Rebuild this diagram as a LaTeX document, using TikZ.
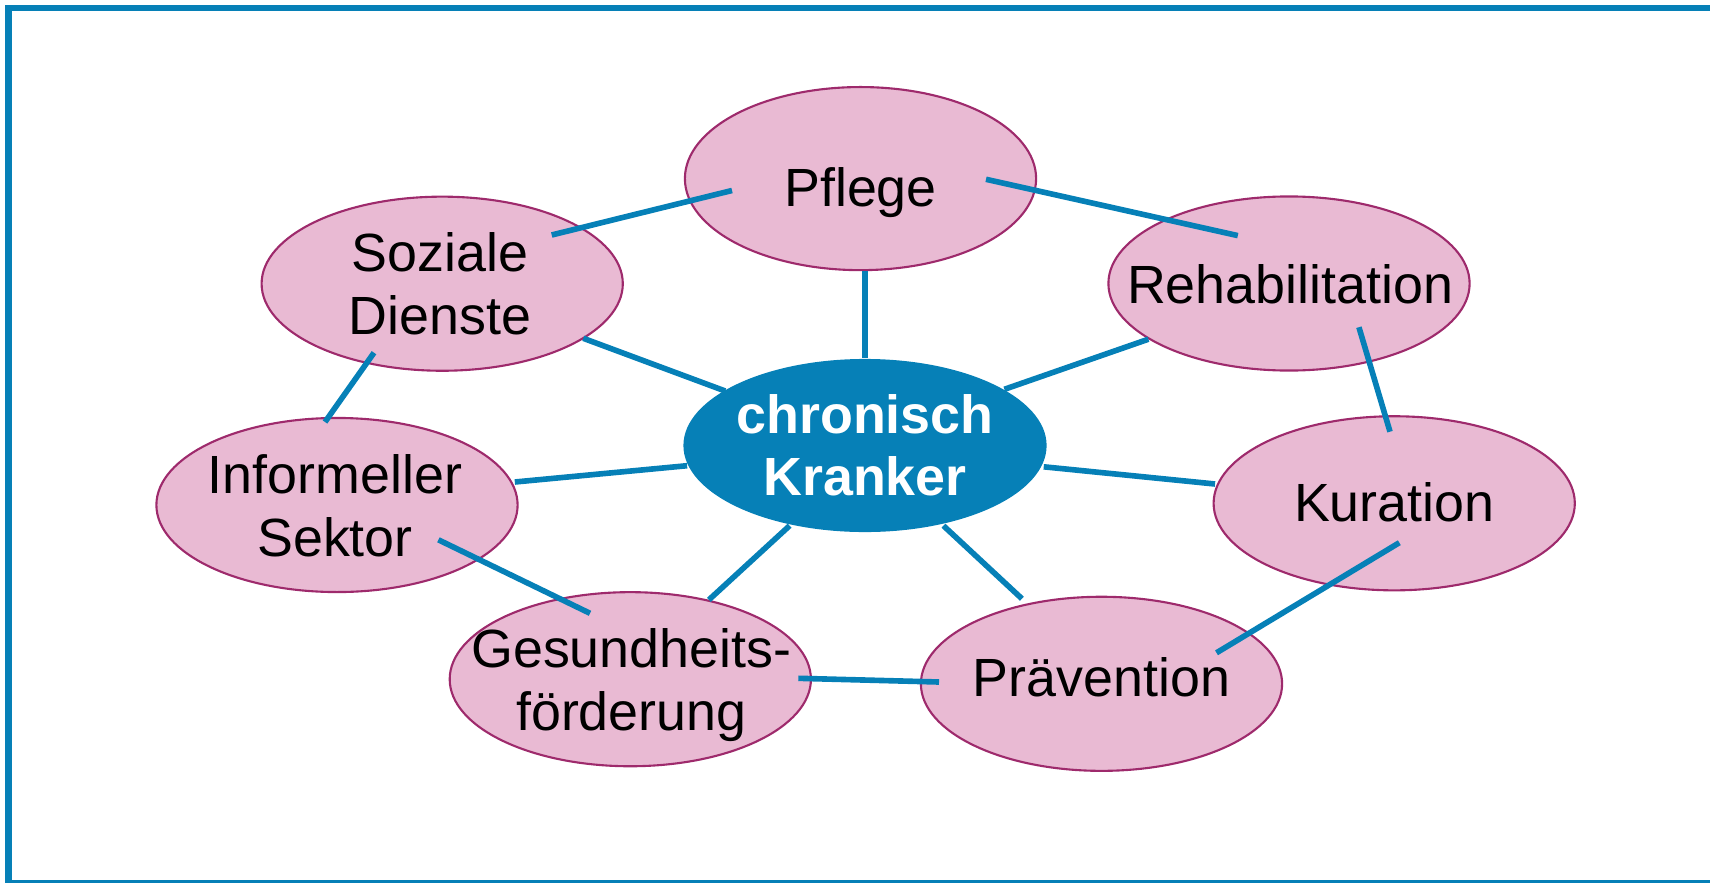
\documentclass[tikz,border=0pt]{standalone}
\usepackage{fontspec}
\setmainfont{Liberation Sans}
\usetikzlibrary{shapes.geometric,calc}
\definecolor{frameblue}{RGB}{6,128,183}
\definecolor{petal}{RGB}{233,186,211}
\definecolor{petaledge}{RGB}{158,42,108}

\begin{document}
\begin{tikzpicture}[x=0.01cm,y=-0.01cm,
  petalnode/.style={ellipse, draw=petaledge, line width=0.6pt, fill=petal,
    minimum width=3.61cm, minimum height=1.74cm, inner sep=0pt},
  corenode/.style={ellipse, fill=frameblue, minimum width=3.63cm,
    minimum height=1.73cm, inner sep=0pt},
  lbl/.style={anchor=base, align=center, inner sep=0pt,
    font=\fontsize{15.3}{17.9}\selectfont},
  corelbl/.style={anchor=base, align=center, inner sep=0pt, text=white,
    font=\fontsize{15.3}{17.6}\selectfont\bfseries},
  link/.style={draw=frameblue, line width=1.6pt}]

\useasboundingbox (0,0) rectangle (1710,882);
\clip (0,0) rectangle (1710,882);

% outer frame (right side lies outside the page)
\draw[frameblue, line width=1.75pt] (1725,883) -- (8.5,883) -- (8.5,8) -- (1725,8);

% ellipses
\node[petalnode, minimum width=3.51cm, minimum height=1.83cm] (pflege) at (860.5,178.6) {};
\node[petalnode] (soziale)  at (442.2,283.7) {};
\node[petalnode] (reha)     at (1289,283.5) {};
\node[petalnode] (inform)   at (337,505) {};
\node[petalnode] (kuration) at (1394.2,503.3) {};
\node[petalnode] (gesund)   at (630.3,679.2) {};
\node[petalnode] (praev)    at (1101.5,683.8) {};
\node[corenode]  (core)     at (865,445.5) {};

% labels (base anchor sits on the last line)
\node[lbl] (pflegeT)   at ($(pflege)+(0,27.4)$)   {Pflege};
\node[lbl] (sozialeT)  at ($(soziale)+(-2,51)$)   {Soziale\\Dienste};
\node[lbl] (rehaT)     at ($(reha)+(1,19.8)$)     {Rehabilitation};
\node[lbl] (informT)   at ($(inform)+(-2,51)$)    {Informeller\\Sektor};
\node[lbl] (kurationT) at ($(kuration)+(0,18.4)$) {Kuration};
\node[lbl] (gesundT)   at ($(gesund)+(1,51)$)     {Gesundheits-\\förderung};
\node[lbl] (praevT)    at ($(praev)+(0,12.9)$)    {Prävention};
\node[corelbl] (coreT) at ($(core)+(0,49.5)$)     {chronisch\\Kranker};

% connectors
\draw[link] ($(pflege)+(-128.5,11.9)$) -- ($(soziale)+(109.5,-48.7)$);
\draw[link] ($(pflege)+(125.5,0.7)$)   -- ($(reha)+(-51.2,-47.9)$);
\draw[link] ($(pflege)+(4.5,92)$)      -- ($(core)+(0,-88)$);
\draw[link] ($(soziale)+(141.1,54.6)$) -- ($(core)+(-139.8,-54.5)$);
\draw[link] ($(soziale)+(-68.2,69)$)   -- ($(inform)+(-12,-83)$);
\draw[link] ($(reha)+(-140.6,55.7)$)   -- ($(core)+(139.4,-56.2)$);
\draw[link] ($(reha)+(69.9,43.7)$)     -- ($(kuration)+(-4.2,-71.6)$);
\draw[link] ($(inform)+(177.8,-23)$)   -- ($(core)+(-177.9,20.2)$);
\draw[link] ($(inform)+(101.4,34.8)$)  -- ($(gesund)+(-40.3,-65.9)$);
\draw[link] ($(kuration)+(-179.2,-19.3)$) -- ($(core)+(178.7,21.3)$);
\draw[link] ($(kuration)+(5.1,39.4)$)  -- ($(praev)+(115,-31)$);
\draw[link] ($(gesund)+(78.6,-79.4)$)  -- ($(core)+(-75.4,80.2)$);
\draw[link] ($(gesund)+(168,-0.9)$)    -- ($(praev)+(-162.5,-1.8)$);
\draw[link] ($(praev)+(-79.6,-85.1)$)  -- ($(core)+(78.4,80.2)$);
\end{tikzpicture}
\end{document}
